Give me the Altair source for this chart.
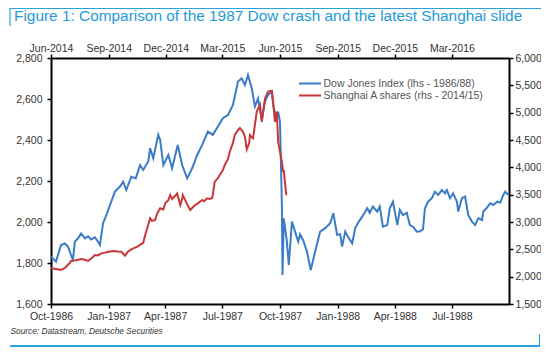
import altair as alt
import pandas as pd

DOW_NAME = "Dow Jones Index (lhs - 1986/88)"
SH_NAME = "Shanghai A shares (rhs - 2014/15)"

dow_dates = ["1986-10-01","1986-10-09","1986-10-17","1986-10-23","1986-10-28","1986-11-02","1986-11-05","1986-11-08",
             "1986-11-13","1986-11-18","1986-11-24","1986-11-29","1986-12-04","1986-12-10","1986-12-15","1986-12-18",
             "1986-12-23","1986-12-29","1987-01-03","1987-01-11","1987-01-19","1987-01-24","1987-01-29","1987-02-06",
             "1987-02-13","1987-02-20","1987-02-25","1987-03-05","1987-03-08","1987-03-13","1987-03-21","1987-03-24",
             "1987-03-29","1987-04-06","1987-04-12","1987-04-21","1987-04-28","1987-05-06","1987-05-14","1987-05-22",
             "1987-05-30","1987-06-08","1987-06-16","1987-06-24","1987-07-02","1987-07-10","1987-07-18","1987-07-26",
             "1987-08-01","1987-08-06","1987-08-11","1987-08-17","1987-08-22","1987-08-27","1987-09-02","1987-09-07",
             "1987-09-12","1987-09-18","1987-09-20","1987-09-26","1987-09-28","1987-10-01","1987-10-04","1987-10-05",
             "1987-10-07","1987-10-12","1987-10-15","1987-10-20","1987-10-25","1987-10-30","1987-11-02","1987-11-07",
             "1987-11-13","1987-11-19","1987-11-26","1987-12-04","1987-12-12","1987-12-20","1987-12-25","1987-12-31",
             "1988-01-05","1988-01-08","1988-01-13","1988-01-17","1988-01-24","1988-01-29","1988-02-02","1988-02-09",
             "1988-02-14","1988-02-17","1988-02-21","1988-02-26","1988-03-04","1988-03-08","1988-03-13","1988-03-20",
             "1988-03-24","1988-03-29","1988-04-05","1988-04-09","1988-04-14","1988-04-20","1988-04-25","1988-04-30",
             "1988-05-06","1988-05-11","1988-05-16","1988-05-19","1988-05-24","1988-05-30","1988-06-04","1988-06-09",
             "1988-06-15","1988-06-20","1988-06-23","1988-06-28","1988-07-03","1988-07-09","1988-07-11","1988-07-17",
             "1988-07-22","1988-07-27","1988-08-02","1988-08-07","1988-08-12","1988-08-18","1988-08-20","1988-08-25",
             "1988-08-31","1988-09-05","1988-09-11","1988-09-16","1988-09-21","1988-09-24","1988-09-29"]
dow_values = [1831,1807,1888,1895,1880,1839,1815,1904,
              1920,1944,1920,1930,1915,1925,1904,1888,
              1994,2040,2083,2148,2173,2197,2156,2221,
              2213,2278,2254,2295,2360,2311,2425,2400,
              2278,2327,2262,2376,2278,2213,2262,2327,
              2376,2441,2425,2466,2506,2522,2571,2685,
              2701,2668,2717,2652,2563,2603,2498,2587,
              2620,2636,2571,2498,2538,2490,2083,1742,
              2018,1904,1790,2002,1953,1904,1940,1910,
              1856,1766,1856,1953,1970,1994,2043,1937,
              1940,1880,1953,1929,1896,1970,1994,2026,
              2051,2067,2045,2075,2050,2075,1977,1985,
              2067,2099,1985,2059,2034,2045,1985,1977,
              1953,1955,1965,2067,2099,2116,2148,2132,
              2156,2140,2156,2116,2140,2099,2051,2116,
              2124,2034,2002,1985,2018,2010,2051,2067,
              2091,2083,2099,2095,2132,2148,2132]

sh_dates = ["2014-06-01","2014-06-09","2014-06-17","2014-06-22","2014-06-25","2014-06-30","2014-07-03","2014-07-11",
            "2014-07-19","2014-07-25","2014-07-30","2014-08-05","2014-08-10","2014-08-15","2014-08-20","2014-08-26",
            "2014-08-31","2014-09-09","2014-09-16","2014-09-21","2014-09-24","2014-09-27","2014-10-02","2014-10-07",
            "2014-10-13","2014-10-18","2014-10-22","2014-10-26","2014-10-30","2014-11-03","2014-11-06","2014-11-09",
            "2014-11-14","2014-11-17","2014-11-22","2014-11-27","2014-11-30","2014-12-05","2014-12-08","2014-12-11",
            "2014-12-12","2014-12-16","2014-12-19","2014-12-22","2014-12-24","2014-12-27","2014-12-28","2015-01-01",
            "2015-01-05","2015-01-09","2015-01-13","2015-01-17","2015-01-21","2015-01-28","2015-01-31","2015-02-05",
            "2015-02-09","2015-02-13","2015-02-17","2015-02-22","2015-02-25","2015-03-02","2015-03-05","2015-03-10",
            "2015-03-13","2015-03-18","2015-03-21","2015-03-26","2015-03-29","2015-04-03","2015-04-06","2015-04-09",
            "2015-04-13","2015-04-14","2015-04-19","2015-04-25","2015-04-30","2015-05-03","2015-05-08","2015-05-13",
            "2015-05-19","2015-05-21","2015-05-24","2015-05-27","2015-05-29","2015-06-01","2015-06-04","2015-06-06",
            "2015-06-07","2015-06-11"]
sh_values = [2153,2140,2122,2150,2183,2240,2287,2300,
             2323,2310,2287,2340,2396,2390,2427,2440,
             2457,2470,2460,2457,2420,2384,2460,2500,
             2530,2560,2590,2620,2800,2950,3067,3020,
             3037,3150,3250,3230,3341,3400,3494,3420,
             3433,3480,3524,3400,3311,3420,3494,3400,
             3300,3220,3270,3311,3340,3402,3380,3433,
             3420,3440,3738,3800,3860,3950,4043,4150,
             4286,4450,4591,4680,4720,4650,4560,4330,
             4450,4590,4530,5020,5140,4830,5260,5385,
             5400,5200,4830,5020,4470,4290,4100,3920,
             3950,3490]

left_ticks = [1600, 1800, 2000, 2200, 2400, 2600, 2800]
right_ticks = [1500, 2000, 2500, 3000, 3500, 4000, 4500, 5000, 5500, 6000]
bottom_ticks = [(1986, 10), (1987, 1), (1987, 4), (1987, 7), (1987, 10), (1988, 1), (1988, 4), (1988, 7)]
top_ticks = [(2014, 6), (2014, 9), (2014, 12), (2015, 3), (2015, 6), (2015, 9), (2015, 12), (2016, 3)]

TITLE = "Figure 1: Comparison of the 1987 Dow crash and the latest Shanghai slide"
SOURCE = "Source: Datastream, Deutsche Securities"

BLUE = "#3a7cc6"
RED = "#c8373a"
FRAME = "#29a3e0"
TITLE_COLOR = "#1f9ad8"
FONT = "Liberation Sans"
DATE_LABEL = "utcFormat(datum.value, '%b-%Y')"

dow_df = pd.DataFrame({"date": dow_dates, "value": dow_values, "series": DOW_NAME})
sh_df = pd.DataFrame({"date": sh_dates, "value": sh_values, "series": SH_NAME})


def dt(y, m, d=1):
    return alt.DateTime(year=y, month=m, date=d, utc=True)


color_scale = alt.Scale(domain=[DOW_NAME, SH_NAME], range=[BLUE, RED])

dow = alt.Chart(dow_df).mark_line(strokeWidth=2).encode(
    x=alt.X("date:T",
            scale=alt.Scale(type="utc", domain=[dt(1986, 10, 1), dt(1988, 9, 30)]),
            axis=alt.Axis(orient="bottom", values=[dt(y, m) for y, m in bottom_ticks],
                          labelExpr=DATE_LABEL, title=None, labelPadding=3)),
    y=alt.Y("value:Q", scale=alt.Scale(domain=[1600, 2800], nice=False, zero=False),
            axis=alt.Axis(orient="left", values=left_ticks, format=",.0f", title=None, labelPadding=5)),
    color=alt.Color("series:N", scale=color_scale,
                    legend=alt.Legend(orient="none", legendX=252.5, legendY=19, title=None,
                                      symbolType="M-2,0H2", symbolSize=121, symbolStrokeWidth=2,
                                      labelFontSize=10.5, labelColor="#555", labelFont=FONT,
                                      labelLimit=300, rowPadding=0, labelOffset=7, padding=0)),
)

sh = alt.Chart(sh_df).mark_line(strokeWidth=2).encode(
    x=alt.X("date:T",
            scale=alt.Scale(type="utc", domain=[dt(2014, 6, 1), dt(2016, 5, 31)]),
            axis=alt.Axis(orient="top", values=[dt(y, m) for y, m in top_ticks],
                          labelExpr=DATE_LABEL, title=None, labelPadding=1)),
    y=alt.Y("value:Q", scale=alt.Scale(domain=[1500, 6000], nice=False, zero=False),
            axis=alt.Axis(orient="right", values=right_ticks, format=",.0f", title=None, labelPadding=2)),
    color=alt.Color("series:N", scale=color_scale),
)

title = alt.Chart(alt.Data(values=[{"t": TITLE}])).mark_text(
    align="left", baseline="middle", fontSize=15.4, font=FONT, color=TITLE_COLOR
).encode(text="t:N", x=alt.value(-37), y=alt.value(-42))

source = alt.Chart(alt.Data(values=[{"t": SOURCE}])).mark_text(
    align="left", baseline="middle", fontSize=8.3, fontStyle="italic", font=FONT, color="#333"
).encode(text="t:N", x=alt.value(-40.5), y=alt.value(274))

blank = alt.Data(values=[{"k": 1}])
frame_title_v = alt.Chart(blank).mark_rule(color=FRAME, strokeWidth=1.2).encode(
    x=alt.value(-41), y=alt.value(-50), y2=alt.value(-32))
frame_title_h = alt.Chart(blank).mark_rule(color=FRAME, strokeWidth=1.2).encode(
    x=alt.value(-41), x2=alt.value(491), y=alt.value(-49.5))
frame_foot_h = alt.Chart(blank).mark_rule(color=FRAME, strokeWidth=2).encode(
    x=alt.value(-41), x2=alt.value(489), y=alt.value(288))
frame_foot_v = alt.Chart(blank).mark_rule(color=FRAME, strokeWidth=1.2).encode(
    x=alt.value(488.5), y=alt.value(276), y2=alt.value(288))

chart = alt.layer(dow, sh, title, source, frame_title_v, frame_title_h, frame_foot_h, frame_foot_v).resolve_scale(
    x="independent", y="independent"
).properties(
    width=458, height=246,
    padding={"left": 43, "top": 50, "right": 32, "bottom": 44},
    autosize=alt.AutoSizeParams(type="none"),
).configure_axis(
    domainColor="black", domainWidth=2, tickColor="black", tickWidth=1.5, tickSize=4,
    labelColor="#333", labelFont=FONT, labelFontSize=10.5, grid=False,
    labelOverlap=False, labelFlush=False, labelBound=False,
).configure_view(stroke=None)

chart.save("out.html", embed_options={"renderer": "svg", "actions": False})
